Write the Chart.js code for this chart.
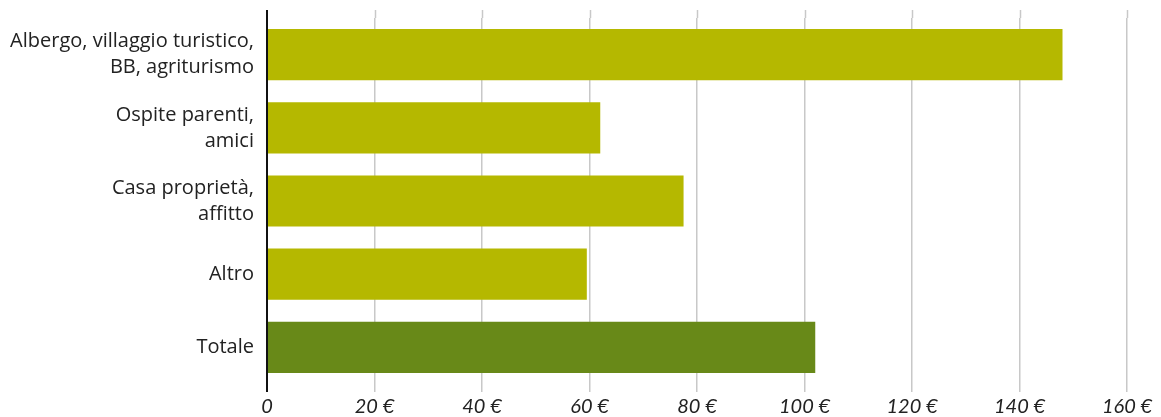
<!DOCTYPE html>
<html>
<head>
<meta charset="utf-8">
<script src="https://cdn.jsdelivr.net/npm/chart.js@4"></script>
<style>
  html, body { margin: 0; padding: 0; background: #fff; }
  #wrap { width: 1161px; height: 417px; }
</style>
</head>
<body>
<div id="wrap"><canvas id="chart" width="1161" height="417"></canvas></div>
<script>
// ---------- data ----------
const categories = [
    ['Albergo, villaggio turistico,', 'BB, agriturismo'],
    ['Ospite parenti,', 'amici'],
    ['Casa proprietà,', 'affitto'],
    'Altro',
    'Totale'
];
const spending = [148, 62, 77.5, 59.5, 102];
const barColors = ['#b5b800', '#b5b800', '#b5b800', '#b5b800', '#688918'];
const xTicks = [0, 20, 40, 60, 80, 100, 120, 140, 160];

// ---------- extend grid/axis lines above chart area ----------
const extendLines = {
    id: 'extendLines',
    afterDraw(chart) {
        const c = chart.ctx;
        const area = chart.chartArea;
        const xs = chart.scales.x;
        c.save();
        c.strokeStyle = '#c8c8c8';
        c.lineWidth = 1.5;
        xTicks.forEach(v => {
            if (v === 0) return;
            const px = Math.round(xs.getPixelForValue(v)) + 0.5;
            c.beginPath();
            c.moveTo(px, area.top - 8);
            c.lineTo(px, area.top);
            c.stroke();
        });
        c.strokeStyle = '#111';
        c.lineWidth = 2;
        const x0 = xs.getPixelForValue(0);
        c.beginPath();
        c.moveTo(x0, area.top - 8);
        c.lineTo(x0, area.bottom + 8);
        c.stroke();
        c.restore();
    }
};

const ctx = document.getElementById('chart').getContext('2d');
new Chart(ctx, {
    type: 'bar',
    data: {
        labels: categories,
        datasets: [{
            data: spending,
            backgroundColor: barColors,
            barPercentage: 0.7,
            categoryPercentage: 1.0
        }]
    },
    options: {
        indexAxis: 'y',
        responsive: false,
        animation: false,
        layout: { padding: { top: 18, right: 34, left: 0, bottom: 0 } },
        plugins: { legend: { display: false }, tooltip: { enabled: false } },
        scales: {
            x: {
                min: 0, max: 160,
                afterBuildTicks: s => { s.ticks = xTicks.map(v => ({ value: v })); },
                afterFit: s => { s.height = 33; s.paddingLeft = 0; s.paddingRight = 0; },
                ticks: {
                    color: '#222',
                    font: { family: 'Lato', size: 20, style: 'italic' },
                    padding: 3,
                    callback: v => v === 0 ? '0' : v + ' €'
                },
                grid: { color: '#c8c8c8', lineWidth: 1.5, tickLength: 8, drawOnChartArea: true },
                border: { display: false }
            },
            y: {
                afterFit: s => { s.width = 267; s.paddingTop = 0; s.paddingBottom = 0; },
                ticks: {
                    color: '#222',
                    font: { family: 'Open Sans', size: 20, lineHeight: 1.3 },
                    padding: 5
                },
                grid: { display: false },
                border: { display: false }
            }
        }
    },
    plugins: [extendLines]
});
</script>
</body>
</html>
